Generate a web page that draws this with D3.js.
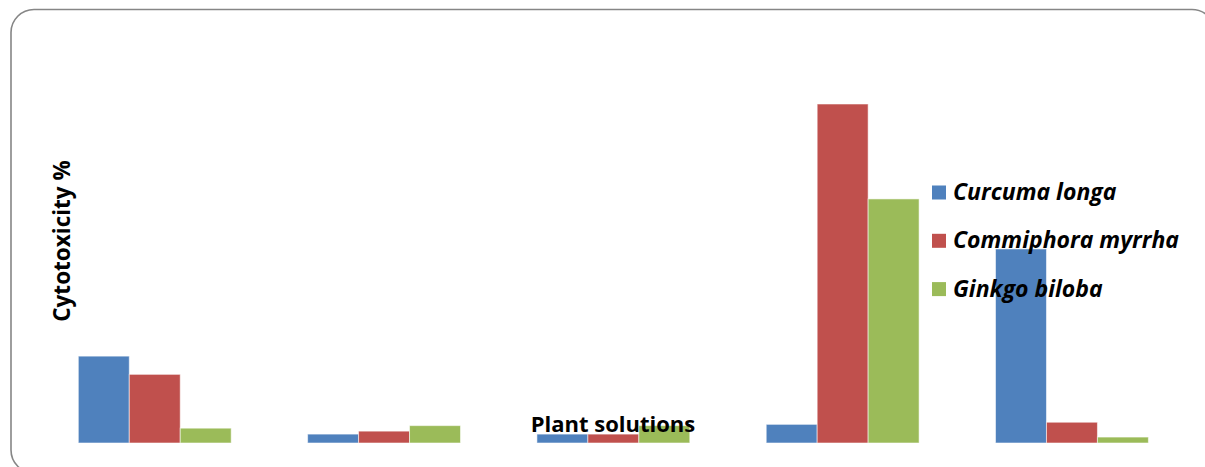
<!DOCTYPE html>
<html>
<head>
<meta charset="utf-8">
<script src="https://cdn.jsdelivr.net/npm/d3@7"></script>
<style>
  html, body { margin: 0; padding: 0; background: #fff; }
  svg { display: block; }
</style>
</head>
<body>
<svg id="chart" width="1205" height="467"></svg>
<script>
// Plant solutions tested (one group per solution)
const categories = ["1", "2", "3", "4", "5"];
const seriesNames = ["Curcuma longa", "Commiphora myrrha", "Ginkgo biloba"];
const curcumaLonga = [20.5, 2.1, 2.1, 4.4, 45.8];
const commiphoraMyrrha = [16.2, 2.8, 2.1, 80.0, 4.9];
const ginkgoBiloba = [3.5, 4.1, 4.1, 57.6, 1.4];
const seriesColors = ["#4F81BD", "#C0504D", "#9BBB59"];

const seriesValues = [curcumaLonga, commiphoraMyrrha, ginkgoBiloba];
const rows = categories.map((c, i) => ({
  category: c,
  values: seriesNames.map((s, j) => ({ series: s, value: seriesValues[j][i], color: seriesColors[j] }))
}));

const svg = d3.select("#chart");
const plot = { left: 40.1, right: 1186.6, top: 19.25, bottom: 443 };

// Rounded frame around the chart area
svg.append("rect")
  .attr("x", 11).attr("y", 9.5)
  .attr("width", 1204).attr("height", 463.5)
  .attr("rx", 23).attr("ry", 23)
  .attr("fill", "#fff")
  .attr("stroke", "#868686")
  .attr("stroke-width", 1.6);

const x0 = d3.scaleBand()
  .domain(categories)
  .range([plot.left, plot.right])
  .paddingInner(1 / 3)
  .paddingOuter(1 / 6);

const x1 = d3.scaleBand()
  .domain(seriesNames)
  .range([0, x0.bandwidth()])
  .padding(0);

const y = d3.scaleLinear()
  .domain([0, 100])
  .range([plot.bottom, plot.top]);

const groups = svg.append("g")
  .selectAll("g")
  .data(rows)
  .join("g")
  .attr("transform", d => `translate(${x0(d.category)},0)`);

groups.selectAll("rect")
  .data(d => d.values)
  .join("rect")
  .attr("x", d => x1(d.series))
  .attr("y", d => y(d.value))
  .attr("width", x1.bandwidth())
  .attr("height", d => y(0) - y(d.value))
  .attr("fill", d => d.color)
  .attr("stroke", "rgba(255,255,255,0.55)")
  .attr("stroke-width", 1);

const fontFamily = "'Open Sans', 'Noto Sans', sans-serif";

// Axis titles
svg.append("text")
  .attr("transform", `translate(70,241) rotate(-90)`)
  .attr("text-anchor", "middle")
  .attr("font-family", fontFamily)
  .attr("font-weight", "bold")
  .attr("font-size", 22.5)
  .attr("fill", "#000")
  .text("Cytotoxicity %");

svg.append("text")
  .attr("x", 613)
  .attr("y", 431.5)
  .attr("text-anchor", "middle")
  .attr("font-family", fontFamily)
  .attr("font-weight", "bold")
  .attr("font-size", 22)
  .attr("fill", "#000")
  .text("Plant solutions");

// Legend
const legend = svg.append("g").attr("transform", "translate(932,185)");
const item = legend.selectAll("g")
  .data(seriesNames)
  .join("g")
  .attr("transform", (d, i) => `translate(0,${i * 48.3})`);

item.append("rect")
  .attr("width", 14).attr("height", 14)
  .attr("y", 0.5)
  .attr("fill", (d, i) => seriesColors[i]);

item.append("text")
  .attr("x", 21)
  .attr("y", 15)
  .attr("font-family", fontFamily)
  .attr("font-weight", "bold")
  .attr("font-style", "italic")
  .attr("font-size", 23)
  .attr("fill", "#000")
  .text(d => d);
</script>
</body>
</html>
